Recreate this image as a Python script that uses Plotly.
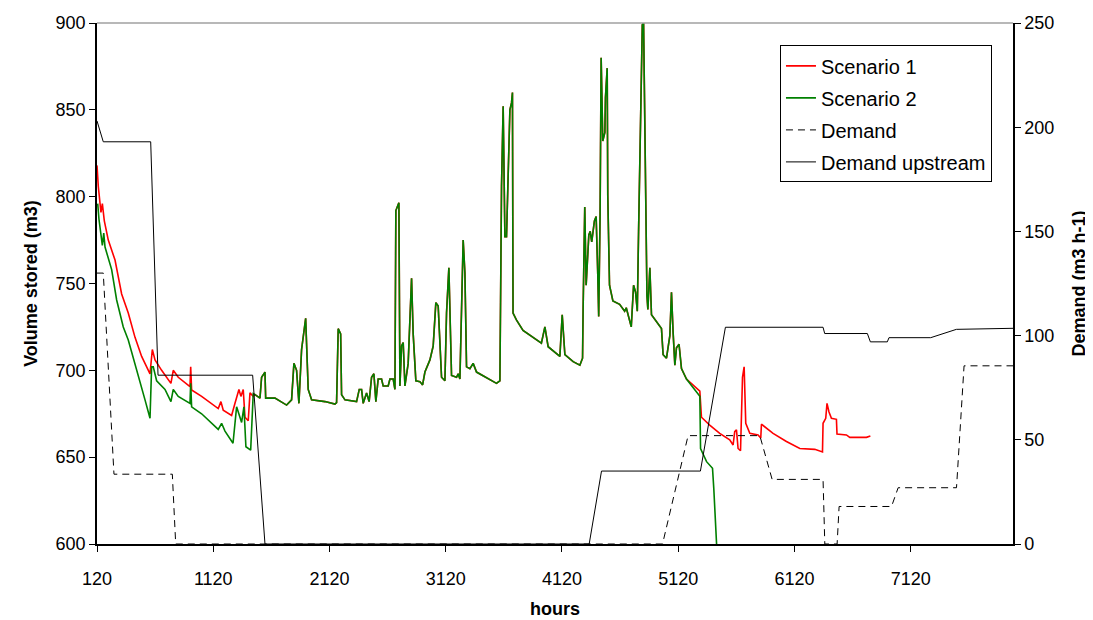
import plotly.graph_objects as go

# ---------------- data ----------------
# Scenario 1 specific start (hours, m3)
s1_head_h = [120, 131, 154, 166, 183, 217, 275, 332, 389, 447, 504, 576, 596, 619, 676, 756, 776, 819,
             920, 926, 934, 1020, 1163, 1186, 1206, 1278, 1307, 1341, 1358, 1378, 1393, 1421, 1436, 1464]
s1_head_v = [818, 806, 791, 796, 786, 775, 763.5, 744, 733, 719, 708, 698, 712, 706, 700, 692.5, 700, 696,
             690.6, 702, 688.7, 685, 678, 682, 677, 674, 681, 689, 685, 689, 673, 671, 687, 685]

# Scenario 2 specific start
s2_head_h = [126, 137, 166, 178, 189, 246, 289, 346, 389, 447, 490, 533, 576, 590, 604, 633, 705, 756, 776,
             819, 920, 926, 934, 1020, 1163, 1192, 1221, 1290, 1321, 1364, 1384, 1401, 1442, 1464]
s2_head_v = [796, 787, 772, 779, 771, 758, 740.5, 725, 717.5, 704, 694, 683, 672.4, 702, 702, 694, 689, 682, 689,
             685, 681, 692.5, 679, 675, 666, 669.5, 665, 658, 679, 670, 679, 656, 654, 686.6]

# Common part of both scenarios
common_h = [1479, 1522, 1536, 1565, 1571, 1651, 1751, 1794, 1814, 1837, 1857, 1880, 1915, 1937, 1966, 2081,
            2167, 2181, 2195, 2216, 2224, 2253, 2353, 2376, 2396, 2410, 2439, 2461, 2482, 2502, 2519, 2539,
            2568, 2582, 2625, 2640, 2668, 2683, 2691, 2717, 2726, 2740, 2754, 2769, 2797, 2812, 2826, 2840,
            2863, 2898, 2921, 2941, 2984, 3012, 3035, 3055, 3070, 3084, 3113, 3127, 3147, 3162, 3170, 3213,
            3227, 3242, 3256, 3270, 3285, 3299, 3328, 3356, 3385, 3557, 3586, 3600, 3614, 3629, 3643, 3657,
            3672, 3686, 3694, 3699, 3728, 3785, 3900, 3943, 3973, 4001, 4102, 4122, 4145, 4216, 4274, 4297,
            4302, 4316, 4328, 4351, 4363, 4376, 4399, 4414, 4428, 4436, 4448, 4457, 4471, 4489, 4494, 4509,
            4514, 4529, 4558, 4616, 4659, 4673, 4716, 4736, 4753, 4768, 4779, 4794, 4811, 4822, 4839, 4851,
            4859, 4876, 4890, 4933, 4976, 4990, 5019, 5048, 5062, 5076, 5091, 5105, 5127, 5148, 5191]
common_v = [686, 684, 696, 699, 684, 684, 680, 683, 704, 700, 681, 712, 730, 689, 683, 682,
            680.6, 681.4, 724, 721, 686, 683, 682, 689, 689, 681, 687, 682, 696, 698, 682, 695,
            695, 691, 691, 695, 695, 689, 792, 796.5, 691, 714, 716, 691, 704, 733, 753, 721,
            694, 693.5, 691.6, 699, 706, 714, 739, 737, 712, 696, 694, 733, 759, 714, 697, 696,
            698, 695, 742, 775, 756, 702, 701, 704, 699, 692.5, 694, 806, 852, 777, 777, 817,
            850, 854, 860, 733, 729, 723, 717.5, 715.6, 725, 713.6, 708, 732, 709, 705, 703, 707,
            736, 794, 749, 778, 780, 774, 786, 788.5, 755, 731, 790, 880, 832, 837, 857, 874,
            801, 749, 740, 738, 734, 736, 725, 749, 745, 734, 780, 832, 899, 900, 790, 743,
            735, 759, 732, 728, 724, 709, 707, 720, 745, 722, 703, 713, 715, 701, 695]

# Scenario 1 specific end
s1_tail_h = [5306, 5320, 5391, 5477, 5563, 5592, 5606, 5621, 5635, 5656, 5673, 5687, 5701, 5721, 5736, 5807,
             5830, 5836, 5936, 6051, 6166, 6295, 6361, 6366, 6389, 6400, 6417, 6438, 6481, 6486, 6567, 6596,
             6739, 6773]
s1_tail_v = [688, 673, 668.5, 663.7, 660, 657, 664.7, 665.7, 655, 653.7, 696, 702, 669.5, 666.6, 663.7, 662.8,
             661, 669, 663.7, 659, 655, 654.5, 653, 669.5, 672.4, 681, 676, 672.4, 671.8, 663.3, 662.8, 661.4,
             661.4, 662.2]

# Scenario 2 specific end
s2_tail_h = [5306, 5312, 5364, 5415, 5426, 5444, 5450]
s2_tail_v = [685, 655, 647.4, 643.6, 632, 605, 600]

# Demand (m3 h-1)
demand_h = [120, 174, 266, 768, 797, 4985, 5205, 5822, 5928, 6366, 6381, 6487, 6504, 6955, 7012, 7514, 7579, 8000]
demand_v = [130, 130, 33.5, 33.5, 0, 0, 52, 52, 31, 31, 0, 0, 18, 18, 27, 27, 85.5, 85.5]

# Demand upstream (m3 h-1)
upstream_h = [120, 174, 582, 645, 1459, 1565, 4354, 4460, 5311, 5526, 6366, 6380, 6747, 6773, 6919, 6933, 7292, 7513, 8000]
upstream_v = [203, 193, 193, 81, 81, 0, 0, 35, 35, 104, 104, 101, 101, 97, 97, 99, 99, 103, 103.5]

x_ticks = [120, 1120, 2120, 3120, 4120, 5120, 6120, 7120]
y_ticks = [600, 650, 700, 750, 800, 850, 900]
y2_ticks = [0, 50, 100, 150, 200, 250]

# ---------------- figure ----------------
FONT = "Liberation Sans, Arial, sans-serif"

s1_h = s1_head_h + common_h + s1_tail_h
s1_v = s1_head_v + common_v + s1_tail_v
s2_h = s2_head_h + common_h + s2_tail_h
s2_v = s2_head_v + common_v + s2_tail_v

fig = go.Figure()
fig.add_trace(go.Scatter(x=s1_h, y=s1_v, mode="lines", name="Scenario 1", legendgroup="a",
                         line=dict(color="#ff0000", width=1.6)))
fig.add_trace(go.Scatter(x=s2_h, y=s2_v, mode="lines", name="Scenario 2", legendgroup="b",
                         line=dict(color="#008000", width=1.6)))
fig.add_trace(go.Scatter(x=demand_h, y=demand_v, mode="lines", name="Demand", legendgroup="c", yaxis="y2",
                         line=dict(color="#000000", width=1, dash="7px,5px")))
fig.add_trace(go.Scatter(x=upstream_h, y=upstream_v, mode="lines", name="Demand upstream", legendgroup="d",
                         yaxis="y2", line=dict(color="#000000", width=1)))

# the page body adds an 8px offset, so the figure is 8px smaller and margins shifted
fig.update_layout(
    width=1085, height=612,
    margin=dict(l=89, r=80, t=15, b=76),
    paper_bgcolor="white", plot_bgcolor="white",
    font=dict(family=FONT, size=18, color="black"),
    showlegend=True,
    legend=dict(x=0.7456, y=0.957, xanchor="left", yanchor="top",
                bordercolor="black", borderwidth=1, bgcolor="white",
                font=dict(size=20), tracegroupgap=3),
    xaxis=dict(range=[120, 8000], tickvals=x_ticks, ticktext=[str(v) for v in x_ticks],
               automargin=False,
               showgrid=False, zeroline=False, showline=True, linecolor="black", linewidth=1.5,
               ticks="outside", ticklen=6, tickcolor="black", ticklabelstandoff=12,
               title=dict(text="<b>hours</b>", font=dict(size=18), standoff=14)),
    yaxis=dict(range=[600, 900], tickvals=y_ticks, showgrid=False, zeroline=False, automargin=False,
               showline=True, linecolor="black", linewidth=1.5, ticks="outside", ticklen=6,
               tickcolor="black",
               title=dict(text="<b>Volume stored (m3)</b>", font=dict(size=18), standoff=13)),
    yaxis2=dict(range=[0, 250], tickvals=y2_ticks, overlaying="y", side="right", showgrid=False,
                automargin=False,
                zeroline=False, showline=True, linecolor="black", linewidth=1.5, ticks="outside",
                ticklen=6, tickcolor="black",
                title=dict(text="<b>Demand (m3 h-1)</b>", font=dict(size=18), standoff=19)),
)
# grey top frame line
fig.add_shape(type="line", xref="paper", yref="paper", x0=0, x1=1, y0=1, y1=1,
              line=dict(color="#a0a0a0", width=1.5))

fig.write_html("out.html")
